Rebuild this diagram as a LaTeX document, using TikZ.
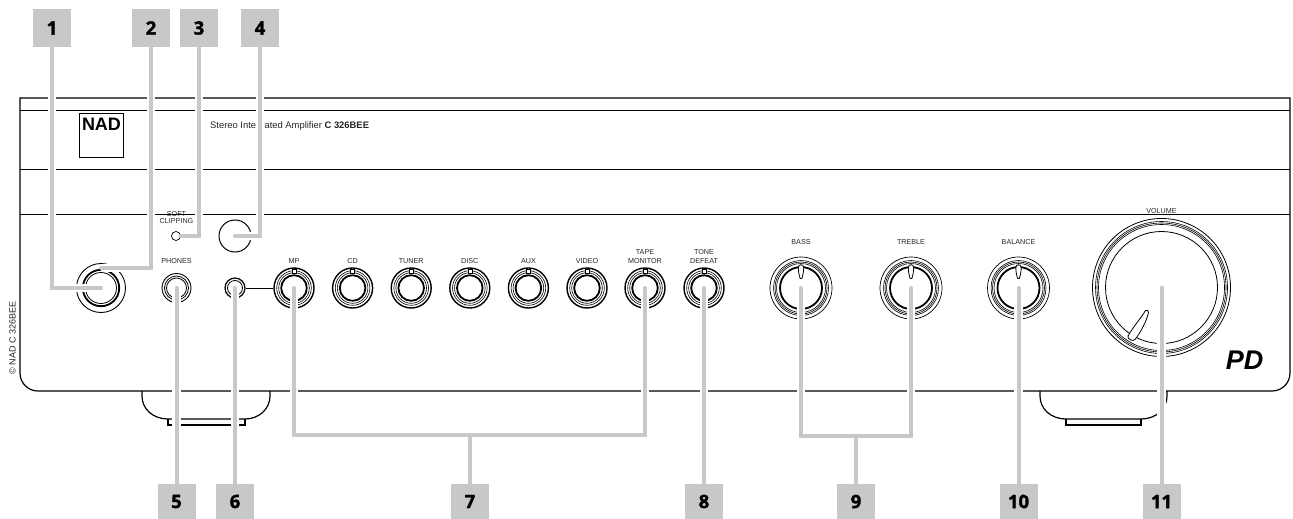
\documentclass[tikz,border=0pt]{standalone}
\usepackage{fontspec}
\setmainfont{Liberation Sans}
\newfontfamily\numfont[BoldFeatures={FakeBold=1.6}]{Open Sans}
\usetikzlibrary{positioning,calc}
\definecolor{callgrey}{HTML}{C7C8CA}

\begin{document}
\begin{tikzpicture}[
  x=1pt, y=-1pt,
  callout/.style={fill=callgrey, minimum width=38pt, minimum height=#1, inner sep=0pt, font=\numfont\fontsize{18.5}{18.5}\selectfont\bfseries},
  callout/.default=38pt,
  leader/.style={draw=callgrey, line width=4pt, line cap=round, preaction={draw=white, line width=8.5pt, shorten <=5pt}},
  stem/.style={draw=callgrey, line width=4pt},
  ring/.style={line width=0.8pt},
  finering/.style={line width=0.6pt},
  thickring/.style={line width=1.8pt},
  lbl/.style={font=\fontsize{7.2}{8.4}\selectfont, align=center, inner sep=0pt, text=black!85},
  knob/.style={draw, circle, inner sep=0pt, minimum size=#1, line width=0.9pt},
  ptr/.style={draw, fill=white, line width=0.8pt},
  panel/.style={line width=1.2pt}
]
\useasboundingbox (0,0) rectangle (1293,519);
% front panel outline and trim lines
\draw[panel] (20,98) -- (1290,98) -- (1290,373) .. controls (1290,383) and (1282,391) .. (1272,391) -- (38,391) .. controls (28,391) and (20,383) .. (20,373) -- cycle;
\draw[line width=1pt] (20,110) -- (1290,110);
\draw[line width=1pt] (20,169) -- (1290,169);
\draw[line width=1pt] (20,214) -- (1290,214);
% feet
\draw[panel] (142,391) -- (142,396) .. controls (142,409) and (153,419) .. (168,419) -- (245,419) .. controls (259,419) and (270,409) .. (270,396) -- (270,391);
\draw[panel] (168,419) -- (168,425) -- (245,425) -- (245,419);
\draw[panel] (1040,391) -- (1040,396) .. controls (1040,409) and (1051,419) .. (1066,419) -- (1141,419) .. controls (1156,419) and (1167,409) .. (1167,396) -- (1167,391);
\draw[panel] (1066,419) -- (1066,425) -- (1141,425) -- (1141,419);
% logo and model line
\node[draw, line width=0.9pt, minimum width=44pt, minimum height=44pt, inner sep=0pt] (nadbox) at (101.5,135.3) {};
\node[font=\fontsize{18}{18}\selectfont\bfseries, inner sep=0pt, anchor=north] (nadname) at ([yshift=-5pt]nadbox.north) {NAD};
\node[font=\fontsize{9.4}{10}\selectfont, inner sep=0pt, anchor=west, text=black!85] (model) at (210,126.5) {Stereo Integrated Amplifier \textbf{C 326BEE}};
\node[font=\fontsize{9}{10}\selectfont, inner sep=0pt, rotate=90, text=black!85] (copy) at (12.5,338) {© NAD C 326BEE};
\node[font=\fontsize{27}{27}\selectfont\bfseries\itshape, inner sep=0pt] (pdlogo) at (1244.5,360.5) {PD};
% power, phones, clipping led, standby
\node[knob=49pt] (pwr) at (101,288) {};
\draw[thickring] (pwr) circle (18.2pt);
\draw[ring] (pwr) circle (15.5pt);
\coordinate (pwrtop) at (101,268);
\node[knob=29pt] (phones) at (176.5,288) {};
\draw[ring] (phones) circle (12pt);
\draw[ring] (phones) circle (10pt);
\node[lbl, above=9.5pt of phones] (phoneslbl) {PHONES};
\node[knob=9pt, line width=0.7pt] (clip) at (176,236) {};
\coordinate (clipend) at (181,236);
\node[lbl] (cliplbl) at (176.5,217.7) {SOFT\\[-1.2pt]CLIPPING};
\node[knob=32pt, line width=1pt] (standby) at (235,236) {};
\node[knob=20pt, line width=1.2pt] (jack) at (235,288) {};
\draw[ring] (jack) circle (7.5pt);
% input selector row
\foreach \x/\name/\txt in {294/mp/MP, 352.6/cd/CD, 411.2/tuner/TUNER, 469.8/disc/DISC, 528.4/aux/AUX, 587/video/VIDEO, 645/tape/{TAPE\\MONITOR}, 704/tone/{TONE\\DEFEAT}}{
  \node[knob=40pt, line width=1.4pt] (\name) at (\x,288) {};
  \draw[finering] (\name) circle (17.3pt);
  \draw[finering] (\name) circle (15.3pt);
  \draw[thickring] (\name) circle (12.8pt);
  \draw[fill=white, line width=0.6pt, shift={(\name.center)}] (-2,-19) rectangle (2,-15);
  \node[lbl, above=4pt of \name] (\name lbl) {\txt};
}
\draw[line width=1pt] (jack.east) -- (mp.west);
% tone knobs
\foreach \x/\name/\txt in {801/bass/BASS, 911/treble/TREBLE, 1018.5/balance/BALANCE}{
  \node[knob=62pt, line width=0.7pt] (\name) at (\x,288) {};
  \draw[finering] (\name) circle (27.5pt);
  \draw[finering] (\name) circle (26pt);
  \draw[finering] (\name) circle (24.5pt);
  \draw[thickring] (\name) circle (21pt);
  \draw[ptr, shift={(\name.center)}] (-2.7,-20) .. controls (-2.7,-24.5) and (2.7,-24.5) .. (2.7,-20) .. controls (2.7,-16) and (1.5,-11) .. (0.8,-9.5) .. controls (0.4,-8.8) and (-0.4,-8.8) .. (-0.8,-9.5) .. controls (-1.5,-11) and (-2.7,-16) .. (-2.7,-20) -- cycle;
  \node[lbl, above=12pt of \name] (\name lbl) {\txt};
}
% volume
\node[knob=138pt, line width=0.8pt] (volume) at (1161.5,287.5) {};
\draw[finering] (volume) circle (66pt);
\draw[finering] (volume) circle (64.5pt);
\draw[finering] (volume) circle (63pt);
\draw[ring] (volume) circle (56pt);
\draw[ptr] (1145.5,310.5) .. controls (1147,309.5) and (1149,310.5) .. (1148.5,312.5) .. controls (1147,320) and (1141,332) .. (1135,339.5) .. controls (1133,342) and (1127,339) .. (1128,336) .. controls (1133,327) and (1141,318) .. (1145.5,310.5) -- cycle;
\node[lbl, above=4pt of volume] (volumelbl) {VOLUME};
% numbered callouts
\node[callout] (c1) at (52,28) {1};
\node[callout] (c2) at (151,28) {2};
\node[callout] (c3) at (199,28) {3};
\node[callout] (c4) at (260,28) {4};
\node[callout=35pt] (c5) at (176.5,501.5) {5};
\node[callout=35pt] (c6) at (235,501.5) {6};
\node[callout=35pt] (c7) at (470,501.5) {7};
\node[callout=35pt] (c8) at (704,501.5) {8};
\node[callout=35pt] (c9) at (856,501.5) {9};
\node[callout=35pt] (c10) at (1018.5,501.5) {10};
\node[callout=35pt] (c11) at (1161.5,501.5) {11};
% leaders
\draw[leader] (c1.south) |- (pwr.center);
\draw[leader] (c2.south) |- (pwrtop);
\draw[leader] (c3.south) |- (clipend);
\draw[leader] (c4.south) |- (standby.center);
\draw[leader] (c5.north) -- (phones.center);
\draw[leader] (c6.north) -- (jack.center);
\coordinate (bar7) at (470,434.5);
\draw[leader] (mp.center) |- (bar7) -| (tape.center);
\draw[stem] (c7.north) -- (bar7);
\draw[leader] (c8.north) -- (tone.center);
\coordinate (bar9) at (856,436);
\draw[leader] (bass.center) |- (bar9) -| (treble.center);
\draw[stem] (c9.north) -- (bar9);
\draw[leader] (c10.north) -- (balance.center);
\draw[leader] (c11.north) -- (volume.center);
\end{tikzpicture}
\end{document}
